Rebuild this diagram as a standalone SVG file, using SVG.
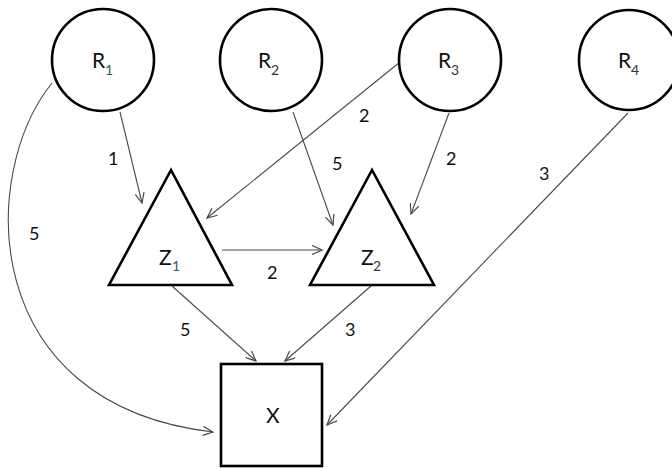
<svg xmlns="http://www.w3.org/2000/svg" width="672" height="468" viewBox="0 0 672 468">
  <defs>
    <style>
      .node { fill: #ffffff; stroke: #000000; stroke-width: 2.6; }
      .edge { fill: none; stroke: #4a4a4a; stroke-width: 1.1; }
      .lbl { font-family: Lato, "Open Sans", sans-serif; font-size: 21px; fill: #111111; }
      .sub { font-family: Lato, "Open Sans", sans-serif; font-size: 14px; fill: #333333; }
      .sub.tint { fill: #2f5d52; }
      .w { font-family: Lato, "Open Sans", sans-serif; font-size: 18px; fill: #111111; }
    </style>
    <marker id="arrow" viewBox="0 0 12 10" refX="11" refY="5" markerWidth="12" markerHeight="10" markerUnits="userSpaceOnUse" orient="auto">
      <path d="M1,0.5 L11,5 L1,9.5" fill="none" stroke="#4a4a4a" stroke-width="1.2"/>
    </marker>
  </defs>
  <rect width="672" height="468" fill="#ffffff"/>

  <!-- connectors -->
  <g id="connectors">
    <line class="edge" x1="120" y1="112" x2="142" y2="203" marker-end="url(#arrow)"/>
    <path class="edge" d="M52,83 C-22,175 -22,405 213,432" marker-end="url(#arrow)"/>
    <line class="edge" x1="293" y1="112" x2="333" y2="225" marker-end="url(#arrow)"/>
    <line class="edge" x1="400" y1="62" x2="207" y2="218" marker-end="url(#arrow)"/>
    <line class="edge" x1="449" y1="113" x2="411" y2="214" marker-end="url(#arrow)"/>
    <line class="edge" x1="628" y1="113" x2="327" y2="425" marker-end="url(#arrow)"/>
    <line class="edge" x1="222" y1="250" x2="322" y2="250" marker-end="url(#arrow)"/>
    <line class="edge" x1="172" y1="286" x2="256" y2="361" marker-end="url(#arrow)"/>
    <line class="edge" x1="371" y1="286" x2="285" y2="361" marker-end="url(#arrow)"/>
    <!-- edge weights -->
    <text class="w" x="108" y="165">1</text>
    <text class="w" x="29" y="240">5</text>
    <text class="w" x="332" y="170">5</text>
    <text class="w" x="359" y="122">2</text>
    <text class="w" x="446" y="165">2</text>
    <text class="w" x="539" y="180">3</text>
    <text class="w" x="267" y="279">2</text>
    <text class="w" x="180" y="336">5</text>
    <text class="w" x="345" y="336">3</text>
  </g>

  <g id="R1">
    <circle class="node" cx="103" cy="60" r="51"/>
    <text class="lbl" x="92" y="68">R</text><text class="sub tint" x="105" y="75">1</text>
  </g>
  <g id="R2">
    <circle class="node" cx="271" cy="60" r="51"/>
    <text class="lbl" x="258" y="68">R</text><text class="sub" x="271" y="75">2</text>
  </g>
  <g id="R3">
    <circle class="node" cx="450" cy="60" r="51"/>
    <text class="lbl" x="438" y="68">R</text><text class="sub" x="451" y="75">3</text>
  </g>
  <g id="R4">
    <circle class="node" cx="629" cy="60" r="50"/>
    <text class="lbl" x="618" y="68">R</text><text class="sub" x="631" y="75">4</text>
  </g>
  <g id="Z1">
    <polygon class="node" points="171,170 109,285 232,285"/>
    <text class="lbl" x="159" y="265">Z</text><text class="sub tint" x="172" y="271">1</text>
  </g>
  <g id="Z2">
    <polygon class="node" points="372,170 310,285 434,285"/>
    <text class="lbl" x="361" y="265">Z</text><text class="sub" x="373" y="271">2</text>
  </g>
  <g id="X">
    <rect class="node" x="221" y="364" width="101" height="102"/>
    <text class="lbl" x="266" y="423">X</text>
  </g>
</svg>
